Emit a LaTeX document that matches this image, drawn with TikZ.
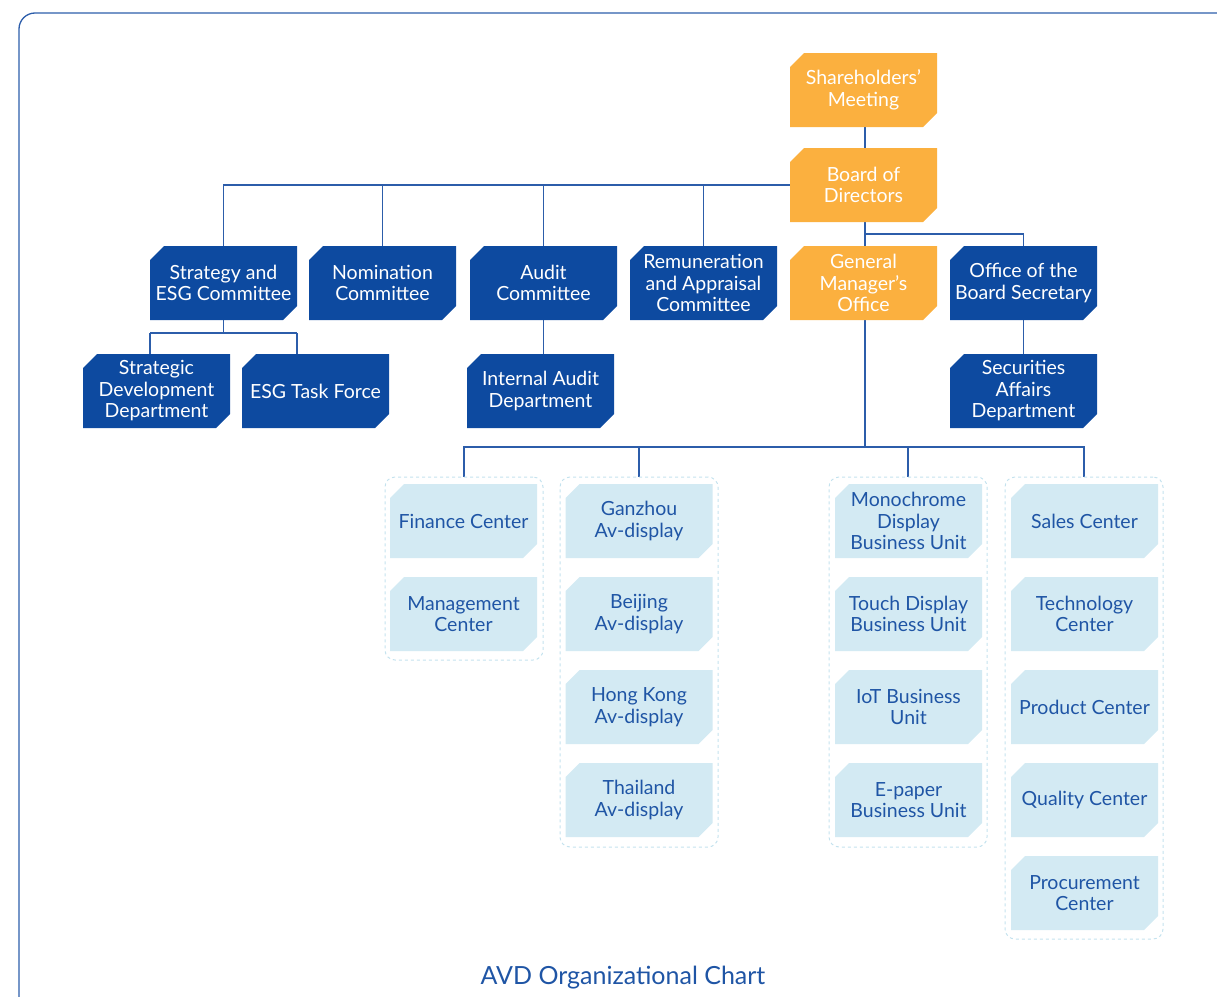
\documentclass[tikz,border=0pt]{standalone}
\usepackage{fontspec}
\setmainfont{Lato}
\usetikzlibrary{backgrounds}
\definecolor{dblue}{HTML}{0D4AA0}
\definecolor{orng}{HTML}{FBB03F}
\definecolor{lblue}{HTML}{D3EAF3}
\definecolor{tblue}{HTML}{1F55A5}
\definecolor{lnblue}{HTML}{2C5DAA}
\definecolor{grpc}{HTML}{C4E2EE}
\begin{document}
\begin{tikzpicture}[x=1pt,y=-1pt,
  cbox/.style={rectangle, minimum width=147pt, minimum height=74pt, inner sep=0pt, align=center,
    font=\fontsize{19.5}{21.5}\selectfont,
    path picture={\fill[#1] ([xshift=14pt]path picture bounding box.north west)
      -- (path picture bounding box.north east)
      -- ([yshift=14pt]path picture bounding box.south east)
      -- ([xshift=-14pt]path picture bounding box.south east)
      -- (path picture bounding box.south west)
      -- ([yshift=-14pt]path picture bounding box.north west) -- cycle;}},
  dk/.style={cbox=dblue, text=white},
  og/.style={cbox=orng, text=white},
  lt/.style={cbox=lblue, text=tblue},
  grp/.style={draw=grpc, dashed, line width=1pt, rounded corners=10pt, minimum width=158pt},
  conn/.style={draw=lnblue, line width=1.2pt}
]
\useasboundingbox (0,0) rectangle (1217,996);
\clip (0,0) rectangle (1217,996);
\draw[lnblue, line width=1.3pt, rounded corners=16pt] (19,1020) -- (19,13) -- (1240,13);

% groups
\node[grp, minimum height=183pt] (g1) at (464,568.5) {};
\node[grp, minimum height=370pt] (g2) at (639,662) {};
\node[grp, minimum height=370pt] (g3) at (908,662) {};
\node[grp, minimum height=462pt] (g4) at (1084,708) {};

% top
\node[og] (sh) at (863.5,90) {Shareholders’\\Meeting};
\node[og] (bod) at (863.5,185) {Board of\\Directors};
% row 2
\node[dk] (strat) at (223.5,283) {Strategy and\\ESG Committee};
\node[dk] (nom) at (382.5,283) {Nomination\\Committee};
\node[dk] (aud) at (543.5,283) {Audit\\Committee};
\node[dk] (rem) at (703.5,283) {Remuneration\\and Appraisal\\Committee};
\node[og] (gm) at (863.5,283) {General\\Manager’s\\Office};
\node[dk] (sec) at (1023.5,283) {Office of the\\Board Secretary};
% row 3
\node[dk] (sdd) at (156.5,391) {Strategic\\Development\\Department};
\node[dk] (esg) at (315.5,391) {ESG Task Force};
\node[dk] (iad) at (540.5,391) {Internal Audit\\Department};
\node[dk] (saf) at (1023.5,391) {Securities\\Affairs\\Department};

% group members
\node[lt] (fin) at (463.5,521) {Finance Center};
\node[lt] (mgt) at (463.5,614) {Management\\Center};
\node[lt] (gz) at (639,521) {Ganzhou\\Av-display};
\node[lt] (bj) at (639,614) {Beijing\\Av-display};
\node[lt] (hk) at (639,707) {Hong Kong\\Av-display};
\node[lt] (th) at (639,800) {Thailand\\Av-display};
\node[lt] (mono) at (908.5,521) {Monochrome\\Display\\Business Unit};
\node[lt] (touch) at (908.5,614) {Touch Display\\Business Unit};
\node[lt] (iot) at (908.5,707) {IoT Business\\Unit};
\node[lt] (epap) at (908.5,800) {E-paper\\Business Unit};
\node[lt] (sales) at (1084.5,521) {Sales Center};
\node[lt] (tech) at (1084.5,614) {Technology\\Center};
\node[lt] (prod) at (1084.5,707) {Product Center};
\node[lt] (qual) at (1084.5,800) {Quality Center};
\node[lt] (proc) at (1084.5,893) {Procurement\\Center};

% connectors
\coordinate (j1) at (865,234);
\coordinate (j2) at (223.5,333);
\coordinate (j2l) at (150,333);
\coordinate (j2r) at (297,333);
\coordinate (j3) at (865,447);
\begin{scope}[on background layer]
\path[conn] (sh.south -| j1) -- (bod.north -| j1);
\path[conn] (bod.west) -| (strat.north);
\path[conn] (bod.west) -| (nom.north);
\path[conn] (bod.west) -| (aud.north);
\path[conn] (bod.west) -| (rem.north);
\path[conn] (bod.south -| j1) -- (gm.north -| j1);
\path[conn] (j1) -| (sec.north);
\path[conn] (strat.south) -- (j2);
\path[conn] (j2l) -- (j2r);
\path[conn] (j2l) -- (j2l |- sdd.north);
\path[conn] (j2r) -- (j2r |- esg.north);
\path[conn] (aud.south) -- (aud.south |- iad.north);
\path[conn] (sec.south) -- (saf.north);
\path[conn] (gm.south -| j3) -- (j3);
\path[conn] (j3) -| (g1.north);
\path[conn] (j3) -| (g2.north);
\path[conn] (j3) -| (g3.north);
\path[conn] (j3) -| (g4.north);
\end{scope}

\node[text=tblue, font=\fontsize{25}{29}\selectfont] (title) at (623,978) {AVD Organizational Chart};
\end{tikzpicture}
\end{document}
